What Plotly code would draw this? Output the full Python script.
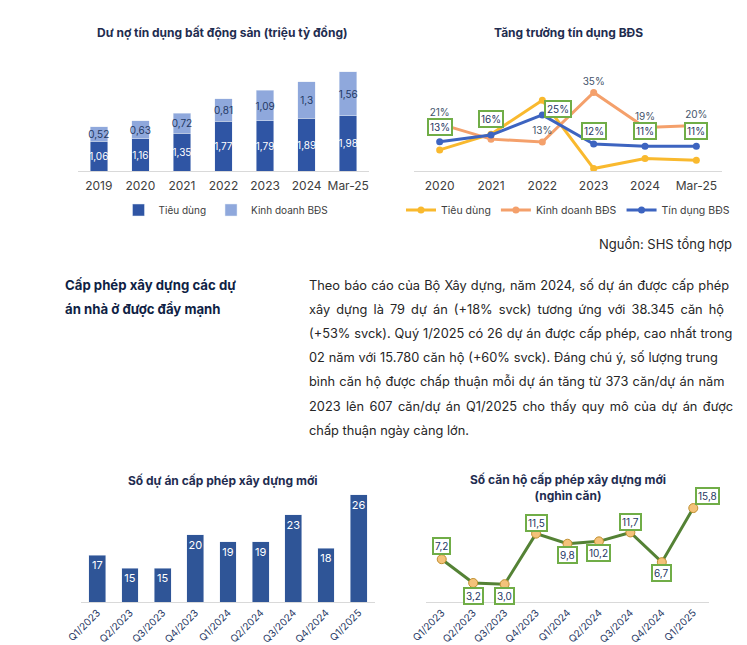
import plotly.graph_objects as go

# Page has an 8px body margin; the figure is sized to fill the rest of the window.
OFF = 8
W, H = 747 - OFF, 645 - OFF

# ---------------- Data ----------------
years_debt = ["2019", "2020", "2021", "2022", "2023", "2024", "Mar-25"]
consumer_debt = [1.06, 1.16, 1.35, 1.77, 1.79, 1.89, 1.98]
business_debt = [0.52, 0.63, 0.72, 0.81, 1.09, 1.3, 1.56]

years_growth = ["2020", "2021", "2022", "2023", "2024", "Mar-25"]
consumer_growth = [9.4, 16.4, 31.5, 1.1, 5.6, 4.8]
business_growth = [21, 14.2, 12.9, 35, 19.4, 20.3]
business_growth_labels = ["21%", "", "13%", "35%", "19%", "20%"]
total_growth = [13, 16, 25, 12, 11, 11]

quarters = ["Q1/2023", "Q2/2023", "Q3/2023", "Q4/2023", "Q1/2024",
            "Q2/2024", "Q3/2024", "Q4/2024", "Q1/2025"]
projects = [17, 15, 15, 20, 19, 19, 23, 18, 26]
apartments = [7.2, 3.2, 3.0, 11.5, 9.8, 10.2, 11.7, 6.7, 15.8]

heading_lines = ["Cấp phép xây dựng các dự", "án nhà ở được đẩy mạnh"]
paragraph_lines = [
    "Theo báo cáo của Bộ Xây dựng, năm 2024, số dự án được cấp phép",
    "xây dựng là 79 dự án (+18% svck) tương ứng với 38.345 căn hộ",
    "(+53% svck). Quý 1/2025 có 26 dự án được cấp phép, cao nhất trong",
    "02 năm với 15.780 căn hộ (+60% svck). Đáng chú ý, số lượng trung",
    "bình căn hộ được chấp thuận mỗi dự án tăng từ 373 căn/dự án năm",
    "2023 lên 607 căn/dự án Q1/2025 cho thấy quy mô của dự án được",
    "chấp thuận ngày càng lớn.",
]

# ---------------- Styling helpers ----------------
FONT = "Inter, Roboto, sans-serif"
NAVY = "#1F2D50"
DARK_BLUE = "#2F55A4"
LIGHT_BLUE = "#8FA8DC"
GREEN_BOX = "#70AD47"
# extra word spacing (px) per paragraph line to imitate the justified text block
WORD_SPACING = [0.65, 2.5, 0.3, 0.25, 0.7, 1.8, 0]


def px(x):
    return (x - OFF) / W


def py(y):
    return 1 - (y - OFF) / H


def comma(v):
    return str(v).replace(".", ",")


fig = go.Figure()

# ---- Chart 1: stacked bars ----
fig.add_trace(go.Bar(
    x=years_debt, y=consumer_debt, name="Tiêu dùng", marker_color=DARK_BLUE,
    text=[comma(v) for v in consumer_debt], textposition="inside", textangle=0,
    insidetextanchor="middle", constraintext="none",
    textfont=dict(color="white", size=10, family=FONT), width=0.42,
    xaxis="x", yaxis="y", legend="legend", hoverinfo="skip"))
fig.add_trace(go.Bar(
    x=years_debt, y=business_debt, name="Kinh doanh BĐS", marker_color=LIGHT_BLUE,
    text=[comma(v) for v in business_debt], textposition="inside", textangle=0,
    insidetextanchor="middle", constraintext="none",
    textfont=dict(color="#1F3864", size=10, family=FONT), width=0.42,
    xaxis="x", yaxis="y", legend="legend", hoverinfo="skip"))

# ---- Chart 2: growth lines ----
fig.add_trace(go.Scatter(
    x=years_growth, y=consumer_growth, name="Tiêu dùng", mode="lines+markers",
    line=dict(color="#F9B92E", width=3), marker=dict(size=7, color="#F9B92E"),
    xaxis="x2", yaxis="y2", legend="legend2", hoverinfo="skip"))
fig.add_trace(go.Scatter(
    x=years_growth, y=business_growth, name="Kinh doanh BĐS",
    mode="lines+markers+text", text=business_growth_labels,
    textposition="top center", textfont=dict(size=10, color="#44546A", family=FONT),
    line=dict(color="#F4A06B", width=3), marker=dict(size=7, color="#F4A06B"),
    xaxis="x2", yaxis="y2", legend="legend2", hoverinfo="skip"))
fig.add_trace(go.Scatter(
    x=years_growth, y=total_growth, name="Tín dụng BĐS", mode="lines+markers",
    line=dict(color="#3D64C0", width=3), marker=dict(size=7, color="#3D64C0"),
    xaxis="x2", yaxis="y2", legend="legend2", hoverinfo="skip"))

# ---- Chart 3: project bars ----
fig.add_trace(go.Bar(
    x=quarters, y=projects, marker_color="#2F5597", width=0.52,
    text=[str(v) for v in projects], textposition="inside", insidetextanchor="end",
    textangle=0, constraintext="none",
    textfont=dict(color="white", size=11, family=FONT),
    xaxis="x3", yaxis="y3", showlegend=False, hoverinfo="skip"))

# ---- Chart 4: apartments line ----
fig.add_trace(go.Scatter(
    x=quarters, y=apartments, mode="lines+markers",
    line=dict(color="#548235", width=3),
    marker=dict(size=9, color="#F4C27A", line=dict(color="#C09030", width=1)),
    xaxis="x4", yaxis="y4", showlegend=False, hoverinfo="skip"))

annotations = []

# green boxes chart 2 (category index used as x position)
box_shift_growth = [(0, 15), (0, 16), (16, 6), (0, 13), (0, 15), (0, 15)]
for i, (v, (dx, dy)) in enumerate(zip(total_growth, box_shift_growth)):
    annotations.append(dict(
        x=i, y=v, xref="x2", yref="y2", text=f"{v}%", showarrow=False,
        xshift=dx, yshift=dy, bordercolor=GREEN_BOX, borderwidth=2, borderpad=1,
        bgcolor="white", font=dict(size=10, color="#1F3864", family=FONT)))

# green boxes chart 4
box_shift_apts = [(0, 13), (0, -13), (0, -12), (0, 11), (0, -11), (0, -12),
                  (0, 10), (0, -11), (14, 12)]
for i, (v, (dx, dy)) in enumerate(zip(apartments, box_shift_apts)):
    annotations.append(dict(
        x=i, y=v, xref="x4", yref="y4", text=comma(v), showarrow=False,
        xshift=dx, yshift=dy, bordercolor=GREEN_BOX, borderwidth=2, borderpad=1,
        bgcolor="white", font=dict(size=10, color="#1F3864", family=FONT)))

# titles
titles = [
    ("<b>Dư nợ tín dụng bất động sản (triệu tỷ đồng)</b>", 222, 32),
    ("<b>Tăng trưởng tín dụng BĐS</b>", 568, 32),
    ("<b>Số dự án cấp phép xây dựng mới</b>", 223, 480),
    ("<b>Số căn hộ cấp phép xây dựng mới<br>(nghìn căn)</b>", 568, 487),
]
for t, x, y in titles:
    annotations.append(dict(
        x=px(x), y=py(y), xref="paper", yref="paper", text=t, showarrow=False,
        xanchor="center", yanchor="middle",
        font=dict(size=12, color=NAVY, family=FONT)))

# source
annotations.append(dict(
    x=px(734), y=py(244), xref="paper", yref="paper", text="Nguồn: SHS tổng hợp",
    showarrow=False, xanchor="right", yanchor="middle",
    font=dict(size=13, color="#262626", family=FONT)))

# heading + paragraph
for i, line in enumerate(heading_lines):
    annotations.append(dict(
        x=px(63), y=py(285 + 24 * i), xref="paper", yref="paper",
        text=f"<b>{line}</b>", showarrow=False, xanchor="left", yanchor="middle",
        font=dict(size=13.2, color="#0F1F45", family=FONT)))
for i, line in enumerate(paragraph_lines):
    annotations.append(dict(
        x=px(307), y=py(285 + 24.2 * i), xref="paper", yref="paper",
        text=f'<span style="word-spacing:{WORD_SPACING[i]}px">{line}</span>',
        showarrow=False, xanchor="left", yanchor="middle",
        font=dict(size=12.8, color="#262626", family=FONT)))

axis_x = dict(type="category", showline=True, linecolor="#D9D9D9", linewidth=1,
              showgrid=False, zeroline=False, ticks="", fixedrange=True,
              automargin=False)
axis_y = dict(visible=False, showgrid=False, zeroline=False, fixedrange=True,
              automargin=False)

fig.update_layout(
    width=W, height=H, margin=dict(l=0, r=0, t=0, b=0, autoexpand=False),
    paper_bgcolor="white", plot_bgcolor="white",
    font=dict(family=FONT, color="#404040"),
    barmode="stack",
    xaxis=dict(axis_x, domain=[px(78), px(369)], range=[-0.5, 6.5], anchor="y",
               tickfont=dict(size=12, color="#404040"), ticklabelstandoff=4),
    yaxis=dict(axis_y, domain=[py(171), py(59)], range=[0, 4], anchor="x"),
    xaxis2=dict(axis_x, domain=[px(414), px(722)], range=[-0.5, 5.5], anchor="y2",
                tickfont=dict(size=12, color="#404040"), ticklabelstandoff=4),
    yaxis2=dict(axis_y, domain=[py(171), py(70)], range=[0, 45], anchor="x2"),
    xaxis3=dict(axis_x, domain=[px(81), px(375)], range=[-0.5, 8.5], anchor="y3",
                tickangle=-45, tickfont=dict(size=10, color="#1F3864")),
    yaxis3=dict(axis_y, domain=[py(602), py(488)], range=[10, 27], anchor="x3"),
    xaxis4=dict(axis_x, domain=[px(426), px(709)], range=[-0.5, 8.5], anchor="y4",
                tickangle=-45, tickfont=dict(size=10, color="#1F3864")),
    yaxis4=dict(axis_y, domain=[py(602), py(495)], range=[0, 18], anchor="x4"),
    legend=dict(orientation="h", x=px(226), y=py(210), xanchor="center",
                yanchor="middle", font=dict(size=10, color="#404040"),
                bgcolor="rgba(0,0,0,0)", traceorder="normal", itemwidth=30),
    legend2=dict(orientation="h", x=px(568), y=py(210), xanchor="center",
                 yanchor="middle", font=dict(size=10.5, color="#404040"),
                 bgcolor="rgba(0,0,0,0)", traceorder="normal", itemwidth=30),
    annotations=annotations,
)

fig.write_html("out.html")
